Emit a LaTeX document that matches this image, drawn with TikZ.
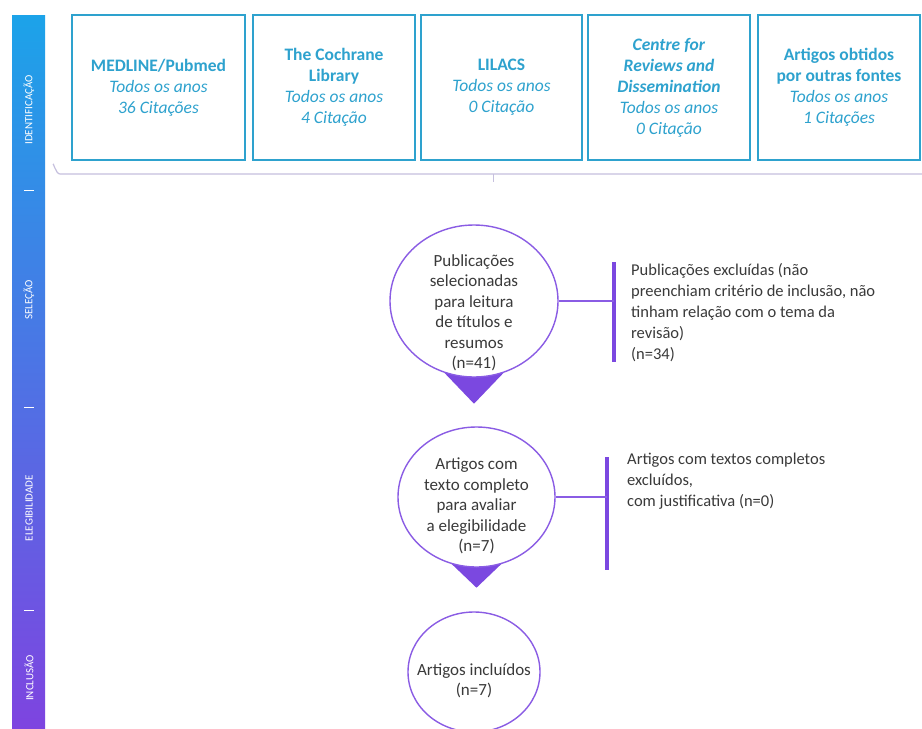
\documentclass[tikz,border=0pt]{standalone}
\usepackage{fontspec}
\setmainfont{Carlito}
\usepackage{tikz}
\usetikzlibrary{shapes.geometric}
\usetikzlibrary{positioning}
\usetikzlibrary{backgrounds}
\definecolor{dbblue}{HTML}{2EA2CE}
\definecolor{bubpurple}{HTML}{8A5CE4}
\definecolor{tippurple}{HTML}{7B48E0}
\definecolor{barblue}{HTML}{1CA3E9}
\definecolor{barviolet}{HTML}{7E44E0}
\definecolor{bracegray}{HTML}{C6C0DE}
\definecolor{textgray}{HTML}{3A3A3A}
\tikzset{x=1pt, y=-1pt,
dbbox/.style={ % Sets the properties for each database box
draw=dbblue,
line width=1.3pt,
minimum height=145,
align=center,
text=dbblue,
font=\fontsize{17.5}{21}\selectfont},
bubble/.style={ % Round stage nodes
ellipse,
draw=bubpurple,
line width=1.4pt,
fill=white,
inner sep=0pt},
bubtext/.style={align=center, text=textgray, inner sep=0pt,
font=\fontsize{17}{20.5}\selectfont},
exctext/.style={align=left, anchor=north west, inner sep=0pt, text=textgray,
font=\fontsize{16.5}{21}\selectfont},
phase/.style={rotate=90, text=white, inner sep=0pt,
font=\fontsize{11}{13}\selectfont},
barline/.style={draw=tippurple, line width=3.5pt},
link/.style={draw=bubpurple, line width=1.3pt}}

\begin{document}
\begin{tikzpicture}
\useasboundingbox (0,0) rectangle (922,729);
% stage bar
\shade[top color=barblue, bottom color=barviolet] (12,15) rectangle (45,729);
\node[phase] (ph1) at (29,110) {IDENTIFICAÇÃO};
\node[phase] (ph2) at (29,300) {SELEÇÃO};
\node[phase] (ph3) at (29,508) {ELEGIBILIDADE};
\node[phase] (ph4) at (29,678) {INCLUSÃO};
\foreach \y in {190,407,610}
  \draw[white, line width=1pt] (24,\y) -- (34,\y);
% databases
\node[dbbox, minimum width=173] (db1) at (158.5,87.5) {\textbf{MEDLINE/Pubmed}\\\textit{Todos os anos}\\\textit{36 Citações}};
\node[dbbox, minimum width=162] (db2) at (334,87.5) {\textbf{The Cochrane}\\\textbf{Library}\\\textit{Todos os anos}\\\textit{4 Citação}};
\node[dbbox, minimum width=161] (db3) at (501.5,87.5) {\textbf{LILACS}\\\textit{Todos os anos}\\\textit{0 Citação}};
\node[dbbox, minimum width=162] (db4) at (669,87.5) {\textbf{\textit{Centre for}}\\\textbf{\textit{Reviews and}}\\\textbf{\textit{Dissemination}}\\\textit{Todos os anos}\\\textit{0 Citação}};
\node[dbbox, minimum width=162] (db5) at (839,87.5) {\textbf{Artigos obtidos}\\\textbf{por outras fontes}\\\textit{Todos os anos}\\\textit{1 Citações}};
% bracket under the boxes
\draw[bracegray, line width=1.2pt] (53,165) to[out=90,in=180] (60,174) -- (922,174);
\draw[bracegray, line width=1pt] (493,174) -- (493,182);
% stages
\node[bubble, minimum width=168, minimum height=152] (c1) at (474,301) {};
\node[bubtext] (t1) at (474,313) {Publicações\\selecionadas\\para leitura\\de títulos e\\resumos\\(n=41)};
\node[bubble, minimum width=157, minimum height=140] (c2) at (476.5,497) {};
\node[bubtext] (t2) at (476.5,506) {Artigos com\\texto completo\\para avaliar\\a elegibilidade\\(n=7)};
\node[bubble, minimum width=132, minimum height=120] (c3) at (474,672) {};
\node[bubtext] (t3) at (474,681) {Artigos incluídos\\(n=7)};
\begin{scope}[on background layer]
\fill[white] (0,0) rectangle (922,729);
\fill[tippurple] ([xshift=-46pt,yshift=22pt]c1.south) -- ([xshift=46pt,yshift=22pt]c1.south) -- ([yshift=-26pt]c1.south) -- cycle;
\fill[tippurple] ([xshift=-44pt,yshift=22pt]c2.south) -- ([xshift=44pt,yshift=22pt]c2.south) -- ([yshift=-20pt]c2.south) -- cycle;
\end{scope}
% exclusions
\coordinate (b1top) at (614,262);
\coordinate (b1bot) at (614,362);
\draw[barline] (b1top) -- (b1bot);
\draw[link] (c1.east) -- (c1.east -| b1top);
\node[exctext] (ex1) at (631,263) {Publicações excluídas (não\\preenchiam critério de inclusão, não\\tinham relação com o tema da\\revisão)\\(n=34)};
\coordinate (b2top) at (607,457);
\coordinate (b2bot) at (607,570);
\draw[barline] (b2top) -- (b2bot);
\draw[link] (c2.east) -- (c2.east -| b2top);
\node[exctext] (ex2) at (627,453) {Artigos com textos completos\\excluídos,\\com justificativa (n=0)};
\end{tikzpicture}
\end{document}
